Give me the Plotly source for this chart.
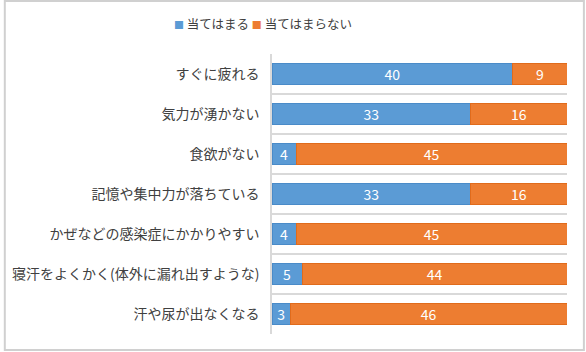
import plotly.graph_objects as go

categories = [
    "すぐに疲れる",
    "気力が湧かない",
    "食欲がない",
    "記憶や集中力が落ちている",
    "かぜなどの感染症にかかりやすい",
    "寝汗をよくかく(体外に漏れ出すような)",
    "汗や尿が出なくなる",
]
applies = [40, 33, 4, 33, 4, 5, 3]
not_applies = [9, 16, 45, 16, 45, 44, 46]
series_names = ["当てはまる", "当てはまらない"]
series_colors = ["#5B9BD5", "#ED7D31"]
edge_colors = ["#4A8BC8", "#E06B1C"]

W, H = 586, 352
ml, mr, mt, mb = 270, 19, 54, 18
pw, ph = W - ml - mr, H - mt - mb

font_family = "Noto Sans CJK JP"

fig = go.Figure()
for vals, name, col, edge in zip([applies, not_applies], series_names,
                                 series_colors, edge_colors):
    fig.add_trace(go.Bar(
        y=categories, x=vals, orientation="h", name=name,
        marker=dict(color=col, line=dict(color=edge, width=1)),
        texttemplate="%{x}", textposition="inside", insidetextanchor="middle",
        textangle=0, constraintext="none",
        textfont=dict(color="white", size=14, family=font_family),
    ))

def px_x(p):
    return (p - ml) / pw
def px_y(p):
    return 1 - (p - mt) / ph

fig.add_shape(type="rect", xref="paper", yref="paper",
              x0=px_x(1), x1=px_x(W - 2), y0=px_y(H - 2), y1=px_y(1),
              line=dict(color="#D0D0D0", width=2), fillcolor="rgba(0,0,0,0)",
              layer="below")

# compact legend like the original (colored squares + names)
legend_text = " ".join(
    f'<span style="color:{c};font-size:10px">■</span> {n}'
    for n, c in zip(series_names, series_colors)
)
fig.add_annotation(xref="paper", yref="paper", x=px_x(261), y=px_y(24),
                   xanchor="center", yanchor="middle", showarrow=False,
                   text=legend_text, font=dict(size=12.5, color="#404040"))

fig.update_layout(
    width=W, height=H,
    barmode="stack", bargap=0.46,
    margin=dict(l=ml, r=mr, t=mt, b=mb),
    paper_bgcolor="white", plot_bgcolor="white",
    font=dict(family=font_family, color="#404040", size=13),
    showlegend=False,
)
fig.update_xaxes(range=[0, 49], visible=False, fixedrange=True)
fig.update_yaxes(
    autorange="reversed", tickson="boundaries", showgrid=True,
    gridcolor="#D9D9D9", gridwidth=1.5, ticks="", showline=True,
    linecolor="#D9D9D9", linewidth=1.5, ticklabelstandoff=8,
    tickfont=dict(size=14, color="#404040"),
)

fig.write_html("out.html")
